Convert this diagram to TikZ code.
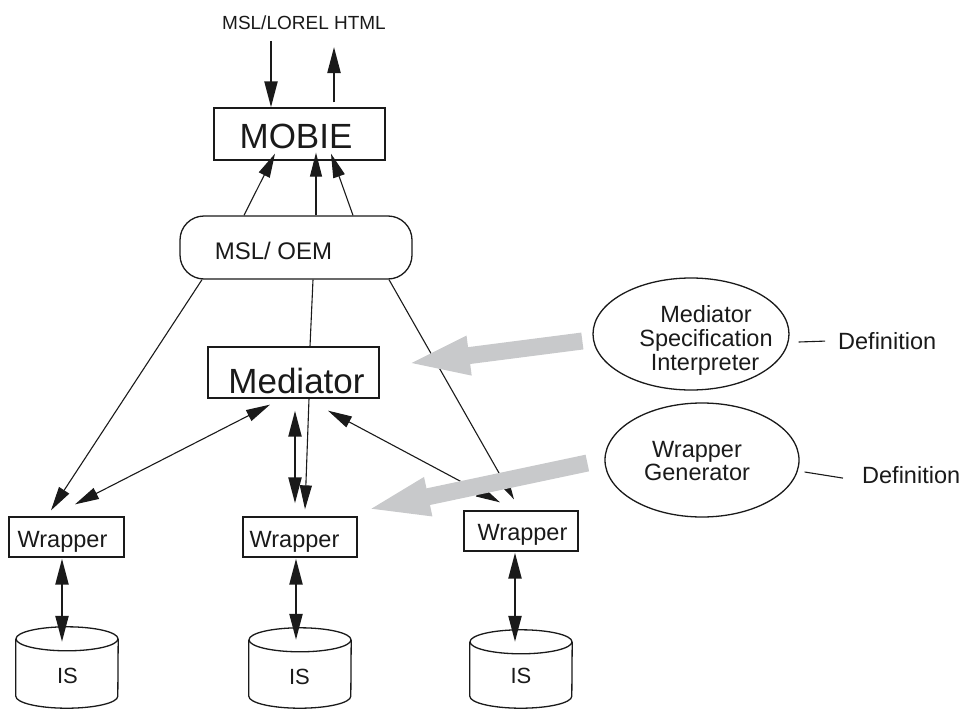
\documentclass[tikz,border=0pt]{standalone}
\usepackage{fontspec}
\setmainfont{Liberation Sans}
\usetikzlibrary{arrows.meta,shapes.geometric}

\definecolor{ink}{RGB}{26,26,26}
\definecolor{guide}{RGB}{200,201,203}

\tikzset{
  box/.style={draw=ink, line width=1.3pt, rectangle, inner sep=0pt, fill=white},
  pill/.style={box, rounded corners=24pt},
  oval/.style={draw=ink, line width=1.3pt, ellipse, inner sep=0pt},
  holder/.style={rectangle, inner sep=0pt},
  lbl/.style={inner sep=0pt, text=ink, anchor=base},
  lblw/.style={inner sep=0pt, text=ink, anchor=base west},
  thinwire/.style={draw=ink, line width=1.1pt},
  boldwire/.style={draw=ink, line width=2.2pt},
  tipS/.tip={Triangle[length=24pt, width=12pt]},
  tipL/.tip={Triangle[length=26pt, width=13pt]},
  flow/.style={draw=guide, line width=17pt, -{Triangle[length=66pt, width=34pt]}},
  fsmall/.style={font=\fontsize{19}{23}\selectfont},
  fmid/.style={font=\fontsize{23.5}{24}\selectfont},
  fbig/.style={font=\fontsize{35}{40}\selectfont},
}

% database drum drawn inside a placeholder node
\newcommand{\dbdrum}[1]{%
  \draw[draw=ink, line width=1.3pt]
    ([yshift=-12pt]#1.north west) -- ([yshift=12pt]#1.south west)
    arc[start angle=180, end angle=360, x radius=51pt, y radius=12pt]
    -- ([yshift=-12pt]#1.north east);
  \draw[draw=ink, line width=1.3pt] ([yshift=-12pt]#1.north)
    ellipse[x radius=51pt, y radius=12pt];
}

\begin{document}
\begin{tikzpicture}[x=1pt, y=-1pt]
\useasboundingbox (0,0) rectangle (963,709);

% query / answer text
\node[lbl, fsmall] (qtext) at (304,30) {MSL/LOREL HTML};

% boxes
\node[box, minimum width=171pt, minimum height=52pt] (mobie) at (299.5,134) {};
\node[lbl, fbig] (mobieT) at (296,148) {MOBIE};

\node[pill, minimum width=232pt, minimum height=63pt] (oem) at (296,247.5) {};
\node[lbl, font=\fontsize{24}{26}\selectfont] (oemT) at (273.5,259) {MSL/ OEM};

\node[box, minimum width=171pt, minimum height=51pt] (med) at (293.5,372.5) {};
\node[lbl, fbig] (medT) at (296.5,393) {Mediator};

\node[box, minimum width=115pt, minimum height=40pt] (w1) at (66.5,537) {};
\node[lbl, fmid] (w1T) at (62.5,547) {Wrapper};
\node[box, minimum width=114pt, minimum height=40pt] (w2) at (300,537) {};
\node[lbl, fmid] (w2T) at (294.5,547) {Wrapper};
\node[box, minimum width=114pt, minimum height=40pt] (w3) at (521,531) {};
\node[lbl, fmid] (w3T) at (522.5,540) {Wrapper};

% information sources
\node[holder, minimum width=102pt, minimum height=81pt] (is1) at (67,667.5) {};
\node[holder, minimum width=102pt, minimum height=80pt] (is2) at (300,668) {};
\node[holder, minimum width=102pt, minimum height=78pt] (is3) at (521,669) {};
\dbdrum{is1}
\dbdrum{is2}
\dbdrum{is3}
\node[lbl, font=\fontsize{22}{24}\selectfont] (is1T) at (67.5,683) {IS};
\node[lbl, font=\fontsize{22}{24}\selectfont] (is2T) at (299.5,684) {IS};
\node[lbl, font=\fontsize{22}{24}\selectfont] (is3T) at (521,683) {IS};

% generators
\node[oval, minimum width=196pt, minimum height=112pt] (msi) at (691,334) {};
\node[lbl, fmid] (msiA) at (706,322) {Mediator};
\node[lbl, fmid] (msiB) at (706,346) {Specification};
\node[lbl, fmid] (msiC) at (705,370) {Interpreter};

\node[oval, minimum width=194pt, minimum height=114pt] (wg) at (702,460) {};
\node[lbl, fmid] (wgA) at (697,457) {Wrapper};
\node[lbl, fmid] (wgB) at (697,480) {Generator};

\node[lblw, fmid] (def1) at (838,349) {Definition};
\node[lblw, fmid] (def2) at (862,483) {Definition};

% query in, answer out
\draw[boldwire, -tipL] ([xshift=-33pt,yshift=-11pt]qtext.base) -- ([xshift=-28.5pt]mobie.north);
\draw[boldwire, -tipL] ([xshift=34.5pt,yshift=5pt]mobie.north) -- ([xshift=30pt,yshift=-17pt]qtext.base);

% MSL/OEM up to MOBIE
\draw[thinwire, -tipS] ([xshift=-52pt]oem.north) -- ([xshift=-24.5pt,yshift=7pt]mobie.south);
\draw[thinwire, -tipS] ([xshift=20pt]oem.north) -- ([xshift=16.5pt,yshift=8pt]mobie.south);
\draw[thinwire, -tipS] ([xshift=57pt]oem.north) -- ([xshift=31.5pt,yshift=7pt]mobie.south);

% MSL/OEM down to the wrappers and the mediator
\draw[thinwire, -tipS] ([xshift=-94pt]oem.south) -- ([xshift=-15.5pt,yshift=6pt]w1.north);
\draw[thinwire] ([xshift=17pt]oem.south) -- ([xshift=16.5pt]med.north);
\draw[thinwire, -tipS] ([xshift=93pt]oem.south) -- ([xshift=-7pt,yshift=11pt]w3.north);

% mediator and wrappers
\draw[thinwire, tipS-tipS] ([xshift=-23.5pt,yshift=-6pt]med.south) -- ([xshift=8.5pt,yshift=12pt]w1.north);
\draw[thinwire, -tipS] ([xshift=15.5pt]med.south) -- ([xshift=5pt,yshift=7pt]w2.north);
\draw[boldwire, tipL-tipL] ([xshift=1.5pt,yshift=-12pt]med.south) -- ([xshift=-5pt,yshift=13pt]w2.north);
\draw[thinwire, tipS-tipS] ([xshift=34.5pt,yshift=-12pt]med.south) -- ([xshift=-21pt,yshift=8pt]w3.north);

% wrappers and sources
\draw[boldwire, tipL-tipL] ([xshift=-4.5pt,yshift=-1pt]w1.south) -- ([xshift=-5pt,yshift=-15pt]is1.north);
\draw[boldwire, tipL-tipL] ([xshift=-4pt,yshift=-1pt]w2.south) -- ([xshift=-4pt,yshift=-12pt]is2.north);
\draw[boldwire, tipL-tipL] ([xshift=-6pt,yshift=-1pt]w3.south) -- ([xshift=-6pt,yshift=-12pt]is3.north);

% definitions
\draw[thinwire] ([xshift=9pt,yshift=-8pt]msi.east) -- ([xshift=-13pt,yshift=-0.5pt]def1.west);
\draw[thinwire] ([xshift=5pt,yshift=-12pt]wg.east) -- ([xshift=-19pt,yshift=-3.5pt]def2.west);

% generated components
\draw[flow] ([xshift=-10pt,yshift=-7pt]msi.west) -- ([xshift=24pt,yshift=8.5pt]med.east);
\draw[flow] ([xshift=-17pt,yshift=-3pt]wg.west) -- ([xshift=6pt,yshift=6pt]w2.north east);
\end{tikzpicture}
\end{document}
